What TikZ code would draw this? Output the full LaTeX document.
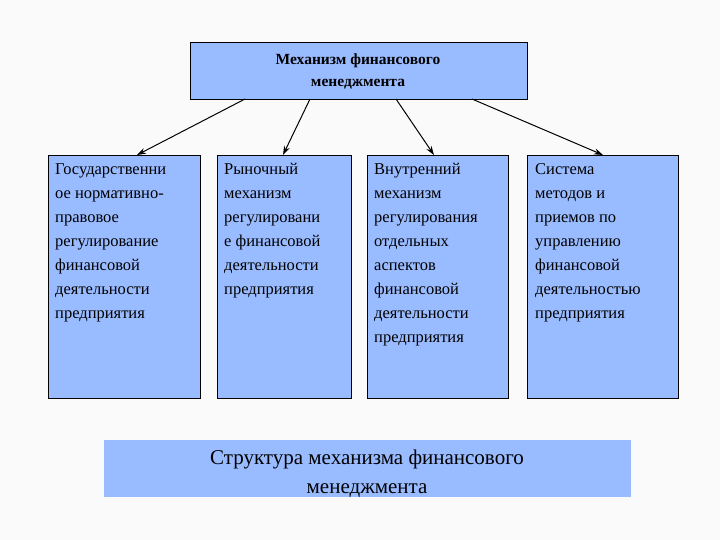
\documentclass[tikz,border=0pt]{standalone}
\usetikzlibrary{arrows.meta}
\usepackage{fontspec}
\setmainfont{Liberation Serif}
\begin{document}
\begin{tikzpicture}[x=1pt,y=-1pt,
  box/.style={draw=black,fill=boxblue,line width=0.8pt},
  txt/.style={anchor=north west,align=left,inner sep=0pt,font=\fontsize{16.5}{24}\selectfont},
  arr/.style={-{Stealth[length=9pt,width=6pt]},line width=1pt}]
\definecolor{boxblue}{RGB}{153,187,255}
\definecolor{bg}{RGB}{250,250,250}
\fill[bg] (0,0) rectangle (720,540);
\useasboundingbox (0,0) rectangle (720,540);
\node[box,minimum width=337pt,minimum height=57pt,anchor=north west,inner sep=0pt] (top) at (190,42) {};
\node[align=center,font=\bfseries\fontsize{15.5}{22}\selectfont] (toptxt) at (358,71) {Механизм финансового\\менеджмента};
\draw[box] (48,155) rectangle (200,398);
\draw[box] (217,155) rectangle (351,398);
\draw[box] (367,155) rectangle (508,398);
\draw[box] (527,155) rectangle (678,398);
\coordinate (a1) at (137,155); \coordinate (a2) at (283,155);
\coordinate (a3) at (434,155); \coordinate (a4) at (603,155);
\coordinate (s1) at (245,99); \coordinate (s2) at (310,99);
\coordinate (s3) at (396,99); \coordinate (s4) at (472,99);
\draw[arr] (s1) -- (a1);
\draw[arr] (s2) -- (a2);
\draw[arr] (s3) -- (a3);
\draw[arr] (s4) -- (a4);
\node[txt] (t1) at (55,163) {Государственни\\ое нормативно-\\правовое\\регулирование\\финансовой\\деятельности\\предприятия};
\node[txt] (t2) at (224,163) {Рыночный\\механизм\\регулировани\\е финансовой\\деятельности\\предприятия};
\node[txt] (t3) at (374,163) {Внутренний\\механизм\\регулирования\\отдельных\\аспектов\\финансовой\\деятельности\\предприятия};
\node[txt] (t4) at (535,163) {Система\\методов и\\приемов по\\управлению\\финансовой\\деятельностью\\предприятия};
\fill[boxblue] (104,440) rectangle (631,497);
\node[align=center,font=\fontsize{21}{29}\selectfont] (bot) at (367,474) {Структура механизма финансового\\менеджмента};
\end{tikzpicture}
\end{document}
